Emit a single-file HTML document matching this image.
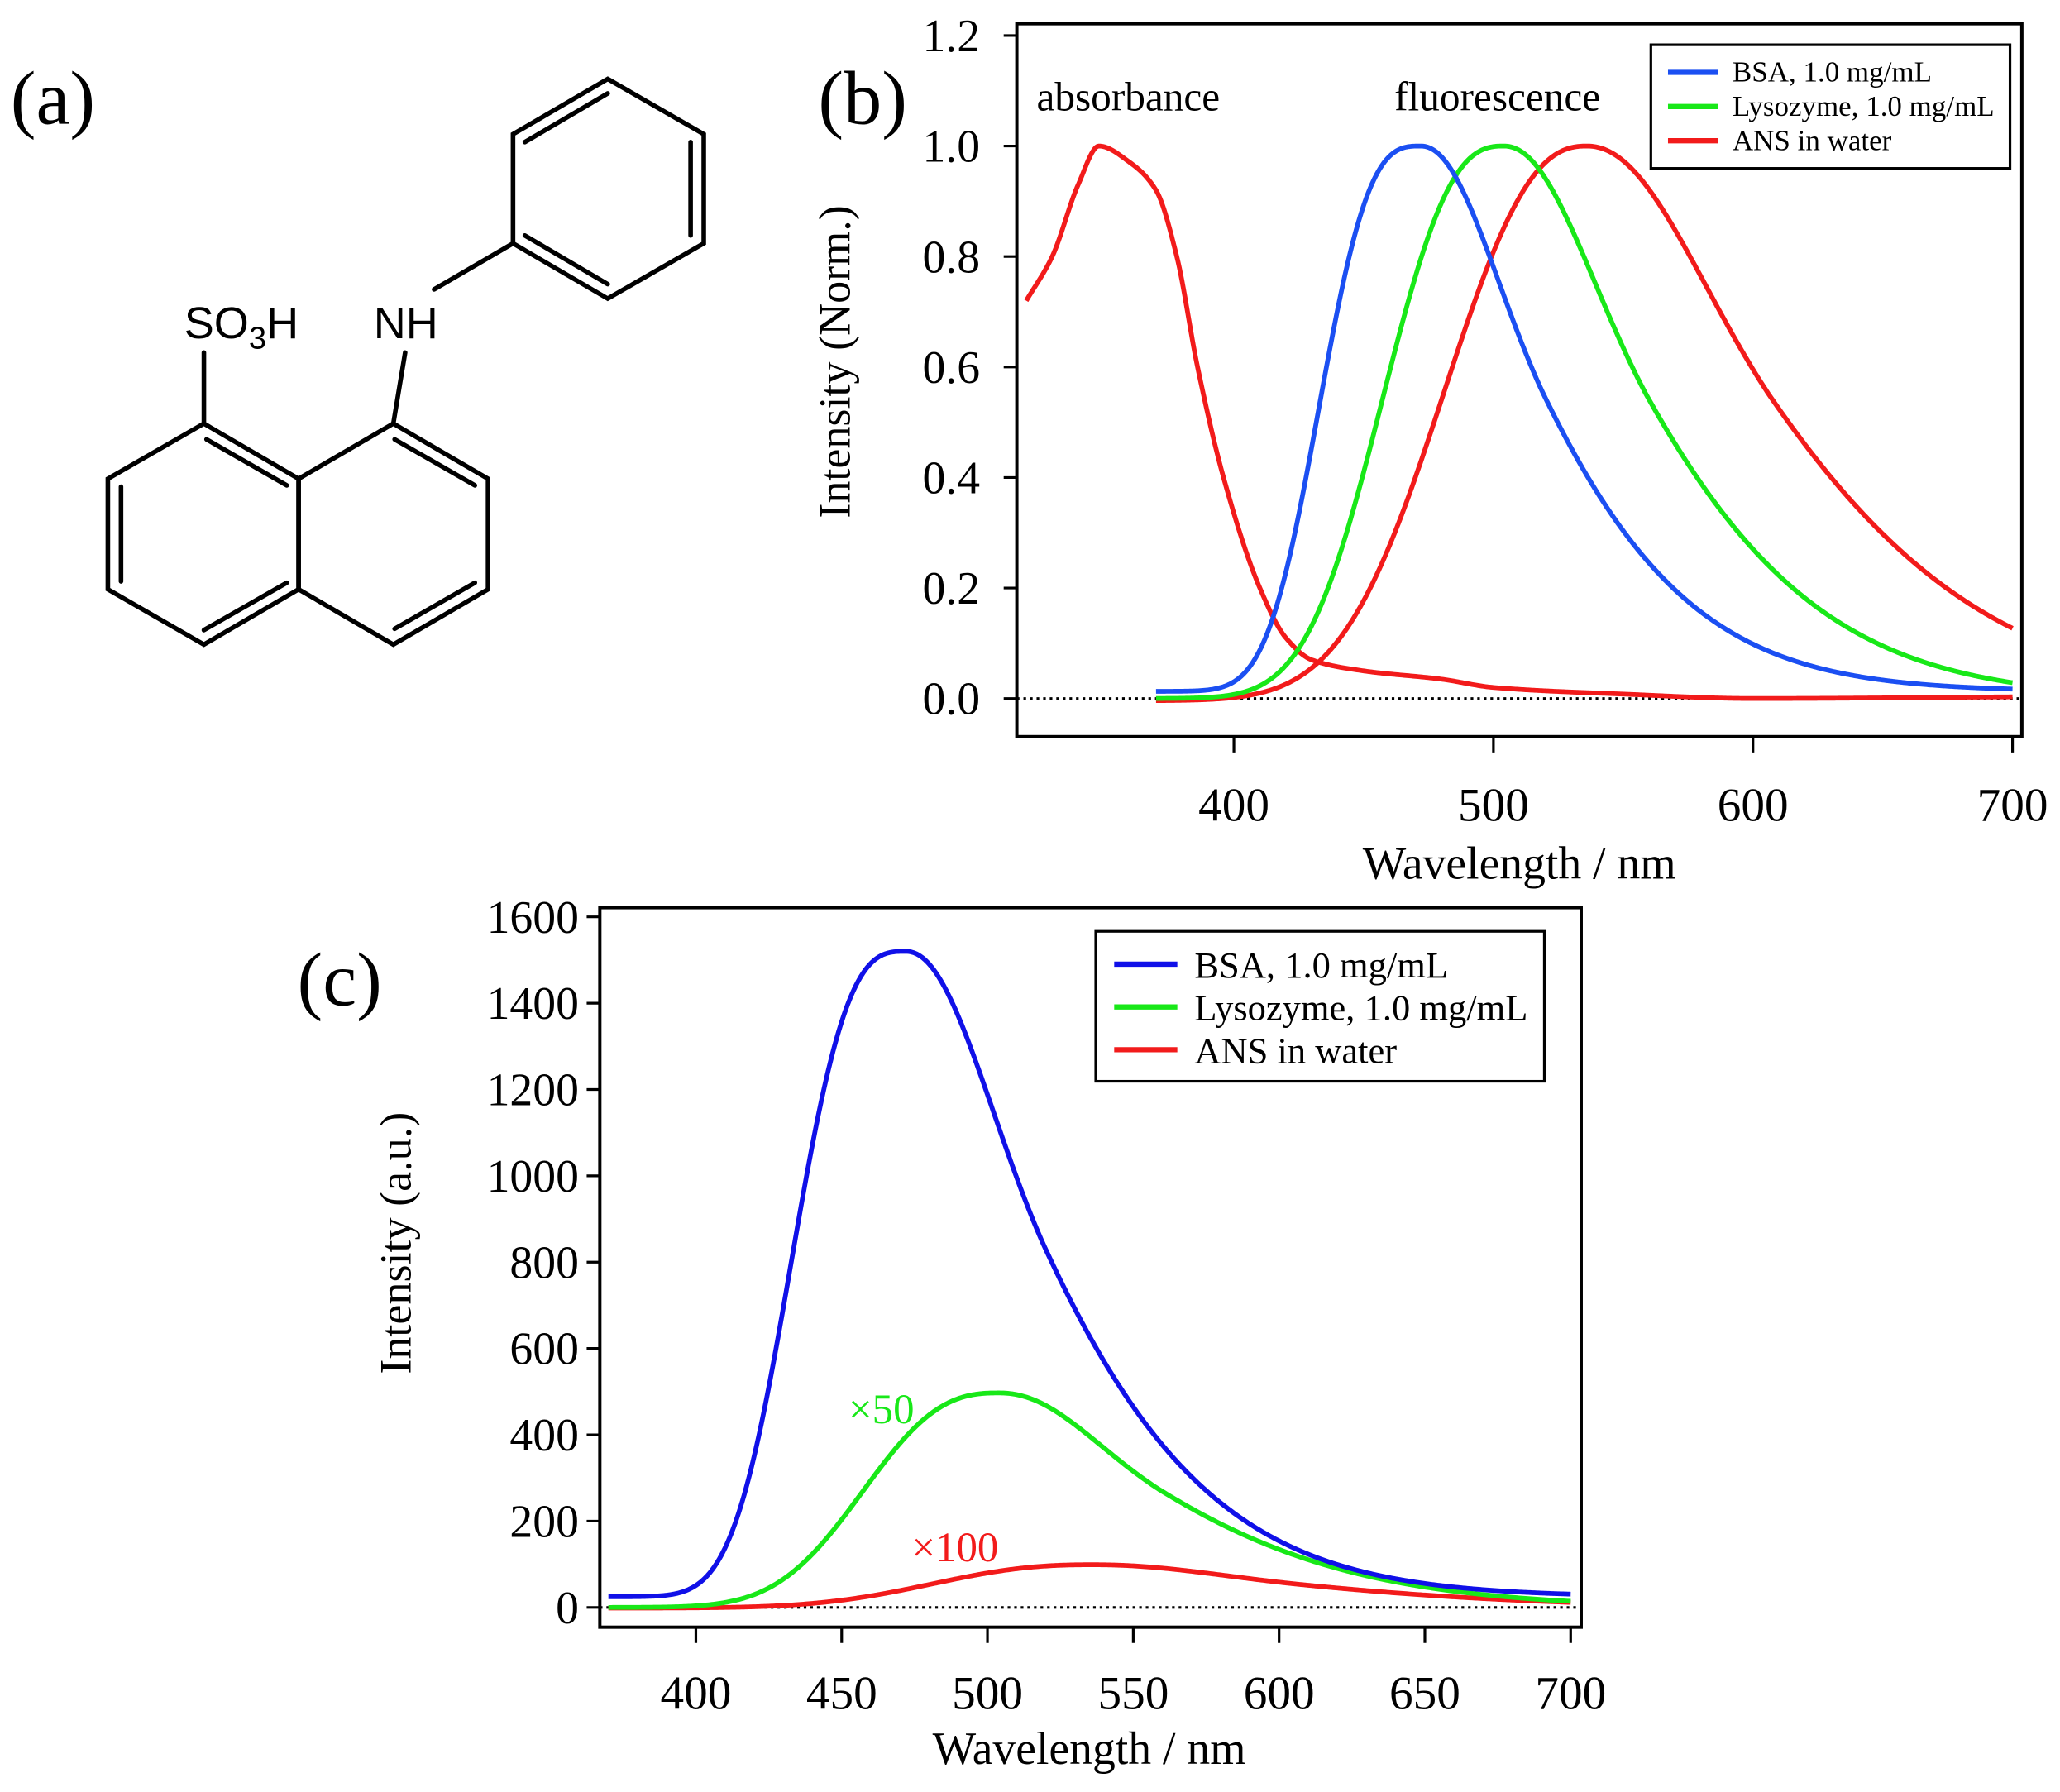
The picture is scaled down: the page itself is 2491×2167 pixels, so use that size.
<!DOCTYPE html>
<html><head><meta charset="utf-8"><style>
html,body{margin:0;padding:0;background:#fff;}
svg{display:block;}
text{font-family:"Liberation Serif",serif;fill:#000;}
.mol text{font-family:"Liberation Sans",sans-serif;}
</style></head><body>
<svg id="s" width="2491" height="2167" viewBox="0 0 1566 1362.3" xmlns="http://www.w3.org/2000/svg">
<rect width="1566" height="1363" fill="#fff"/>
<text x="8" y="94" font-size="58">(a)</text>
<text x="622" y="94" font-size="58">(b)</text>
<text x="226" y="764" font-size="58">(c)</text>
<g class="mol" stroke="#000" stroke-width="3.5" fill="none" stroke-linecap="round">
<polygon points="462,60 535,102 535,185 462,227 390,185 390,102"/>
<line x1="399" y1="108" x2="462" y2="71"/>
<line x1="525" y1="108" x2="525" y2="179"/>
<line x1="462" y1="216" x2="399" y2="179"/>
<line x1="390" y1="185" x2="330" y2="220"/>
<polygon points="299,322 371,364 371,448 299,490 227,448 227,364"/>
<polygon points="227,364 227,448 155,490 82,448 82,364 155,322"/>
<line x1="300" y1="334" x2="361" y2="369"/>
<line x1="361" y1="443" x2="300" y2="478"/>
<line x1="92" y1="370" x2="92" y2="442"/>
<line x1="155" y1="479" x2="218" y2="443"/>
<line x1="157" y1="334" x2="218" y2="369"/>
<line x1="155" y1="322" x2="155" y2="268"/>
<line x1="299" y1="322" x2="308" y2="268"/>
</g>
<g class="mol">
<text x="140" y="257" font-size="34">SO<tspan font-size="24" dy="8">3</tspan><tspan dy="-8">H</tspan></text>
<text x="284" y="257" font-size="34">NH</text>
</g>
<g id="pb"></g>
<g id="pc"></g>
</svg>
<script>
const NS="http://www.w3.org/2000/svg";
function el(p,t,a,txt){const e=document.createElementNS(NS,t);for(const k in a)e.setAttribute(k,a[k]);if(txt!==undefined)e.textContent=txt;p.appendChild(e);return e;}
function mono(pts){
  const n=pts.length,dx=[],s=[],m=new Array(n);
  for(let i=0;i<n-1;i++){dx[i]=pts[i+1][0]-pts[i][0];s[i]=(pts[i+1][1]-pts[i][1])/dx[i];}
  m[0]=s[0];m[n-1]=s[n-2];
  for(let i=1;i<n-1;i++){
    if(s[i-1]*s[i]<=0)m[i]=0;
    else{const w1=2*dx[i]+dx[i-1],w2=dx[i]+2*dx[i-1];m[i]=(w1+w2)/(w1/s[i-1]+w2/s[i]);}
  }
  return x=>{let i=0;while(i<n-2&&x>pts[i+1][0])i++;
    const h=dx[i],t=(x-pts[i][0])/h,t2=t*t,t3=t2*t;
    return (2*t3-3*t2+1)*pts[i][1]+(t3-2*t2+t)*h*m[i]+(-2*t3+3*t2)*pts[i+1][1]+(t3-t2)*h*m[i+1];};
}
function peak(p,wl,pl,wr,pr,base){
  return x=>{const d=x-p;let v;
    if(d<0)v=Math.exp(-Math.LN2*Math.pow(-d/wl,pl));
    else{const r=d/wr;const pe=2-(2-pr)*Math.min(1,r/0.9);v=Math.exp(-Math.LN2*Math.pow(r,pe));}
    const b=base(x);return v*(1-b)+b;};
}
const fBSA=peak(472,40,3.0,52,1.4,x=>0.013);
const fLYS=peak(504,49,2.6,61,1.4,x=>0);
const fANS=peak(536,59,2.4,78,1.45,x=>-0.004);
const ABS=[[320,0.72],[330,0.8],[340,0.93],[348,1.0],[360,0.97],[370,0.92],[378,0.8],[386,0.6],[396,0.4],[410,0.2],[420,0.11],[430,0.07],[450,0.05],[480,0.035],[500,0.02],[550,0.008],[600,0.0],[700,0.003]];
const fABS=mono(ABS);
function curve(g,f,x0,x1,sx,sy,col,scale,off){
  let d="";
  for(let x=x0;x<=x1;x+=0.5){const v=f(x)*scale+(off||0);d+=(d?"L":"M")+sx(x).toFixed(2)+","+sy(v).toFixed(2);}
  el(g,"path",{d:d,fill:"none",stroke:col,"stroke-width":3.6,"stroke-linejoin":"round"});
}
(function(){
 const g=document.getElementById("pb");
 const sx=x=>938+(x-400)*1.973, sy=v=>531-v*420;
 el(g,"line",{x1:773,y1:531,x2:1537,y2:531,stroke:"#000","stroke-width":2,"stroke-dasharray":"2,3"});
 curve(g,fABS,320,700,sx,sy,"#f21b1b",1);
 curve(g,fANS,370,700,sx,sy,"#f21b1b",1);
 curve(g,fLYS,370,700,sx,sy,"#18e818",1);
 curve(g,fBSA,370,700,sx,sy,"#1b4ff2",1);
 el(g,"rect",{x:773,y:18,width:764,height:542,fill:"none",stroke:"#000","stroke-width":2.5});
 for(let i=0;i<=6;i++){const v=i*0.2,y=sy(v);el(g,"line",{x1:763,y1:y,x2:773,y2:y,stroke:"#000","stroke-width":2});
  el(g,"text",{x:745,y:y+12,"font-size":35,"text-anchor":"end"},v.toFixed(1));}
 for(const w of [400,500,600,700]){const x=sx(w);el(g,"line",{x1:x,y1:560,x2:x,y2:572,stroke:"#000","stroke-width":2});
  el(g,"text",{x:x,y:624,"font-size":36,"text-anchor":"middle"},w);}
 el(g,"text",{x:1155,y:668,"font-size":35,"text-anchor":"middle"},"Wavelength / nm");
 el(g,"text",{x:0,y:0,"font-size":34,"text-anchor":"middle",transform:"translate(646,275) rotate(-90)"},"Intensity (Norm.)");
 el(g,"text",{x:788,y:84,"font-size":31},"absorbance");
 el(g,"text",{x:1060,y:84,"font-size":31},"fluorescence");
 el(g,"rect",{x:1255,y:34,width:273,height:94,fill:"#fff",stroke:"#000","stroke-width":2});
 const L=[["BSA, 1.0 mg/mL","#1b4ff2"],["Lysozyme, 1.0 mg/mL","#18e818"],["ANS in water","#f21b1b"]];
 L.forEach((l,i)=>{const y=55+i*26;el(g,"line",{x1:1268,y1:y,x2:1306,y2:y,stroke:l[1],"stroke-width":4});
  el(g,"text",{x:1317,y:y+7,"font-size":22},l[0]);});
})();
(function(){
 const g=document.getElementById("pc");
 const sx=x=>529+(x-400)*2.2167, sy=v=>1222-v*0.328125;
 el(g,"line",{x1:456,y1:1222,x2:1202,y2:1222,stroke:"#000","stroke-width":2,"stroke-dasharray":"2,3"});
 curve(g,fANS,370,700,sx,sy,"#f21b1b",100,-1);
 curve(g,fLYS,370,700,sx,sy,"#18e818",497,0);
 curve(g,fBSA,370,700,sx,sy,"#1010e8",1515,5);
 el(g,"rect",{x:456,y:690,width:746,height:547,fill:"none",stroke:"#000","stroke-width":2.5});
 for(let i=0;i<=8;i++){const v=i*200,y=sy(v);el(g,"line",{x1:446,y1:y,x2:456,y2:y,stroke:"#000","stroke-width":2});
  el(g,"text",{x:440,y:y+12,"font-size":35,"text-anchor":"end"},v);}
 for(let w=400;w<=700;w+=50){const x=sx(w);el(g,"line",{x1:x,y1:1237,x2:x,y2:1249,stroke:"#000","stroke-width":2});
  el(g,"text",{x:x,y:1299,"font-size":36,"text-anchor":"middle"},w);}
 el(g,"text",{x:828,y:1341,"font-size":35,"text-anchor":"middle"},"Wavelength / nm");
 el(g,"text",{x:0,y:0,"font-size":34,"text-anchor":"middle",transform:"translate(312,945) rotate(-90)"},"Intensity (a.u.)");
 el(g,"text",{x:645,y:1082,"font-size":32,style:"fill:#18e818"},"×50");
 el(g,"text",{x:693,y:1187,"font-size":32,style:"fill:#f21b1b"},"×100");
 el(g,"rect",{x:833,y:708,width:341,height:114,fill:"#fff",stroke:"#000","stroke-width":2});
 const L=[["BSA, 1.0 mg/mL","#1010e8"],["Lysozyme, 1.0 mg/mL","#18e818"],["ANS in water","#f21b1b"]];
 L.forEach((l,i)=>{const y=733+i*32.5;el(g,"line",{x1:847,y1:y,x2:895,y2:y,stroke:l[1],"stroke-width":4});
  el(g,"text",{x:908,y:y+10,"font-size":28},l[0]);});
})();
</script>
</body></html>
